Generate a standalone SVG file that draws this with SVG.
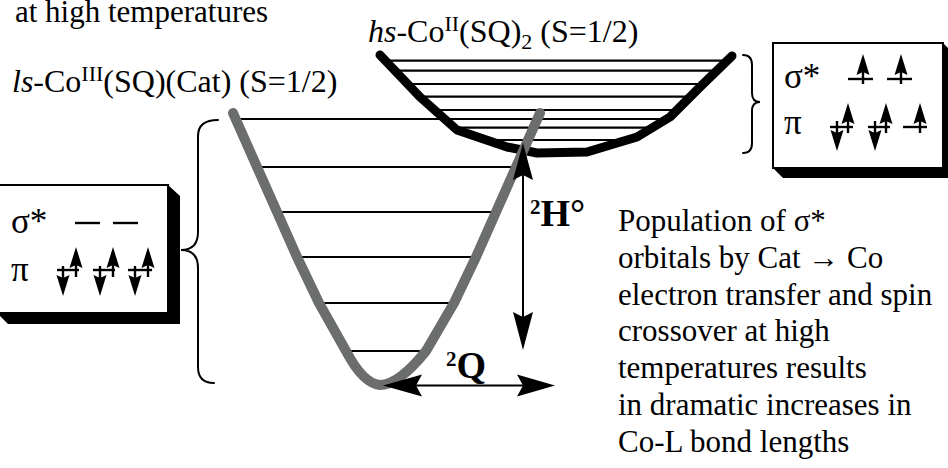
<svg xmlns="http://www.w3.org/2000/svg" xmlns:xlink="http://www.w3.org/1999/xlink" width="948" height="468" viewBox="0 0 948 468">
<style>
text{font-family:"Liberation Serif","Times New Roman",serif;font-size:31px;fill:#000}
.lbl{font-size:32px}
.sym{font-size:35px}
.lvl{stroke:#000;stroke-width:2.2;fill:none}
.orb{stroke:#000;stroke-width:2.4;fill:none}
.brace{stroke:#000;stroke-width:2;fill:none;stroke-linecap:round}
.box{fill:#fff;stroke:#000;stroke-width:2}
.shadow{fill:#000}
.bold{font-weight:bold}
</style>
<defs>
<g id="up"><line x1="0" y1="0" x2="0" y2="-16" stroke="#000" stroke-width="2.4"/><path d="M0,-30 L6.5,-9 L0,-12 L-6.5,-9 Z" fill="#000"/></g>
<g id="down"><line x1="0" y1="0" x2="0" y2="16" stroke="#000" stroke-width="2.4"/><path d="M0,30 L6.5,9 L0,12 L-6.5,9 Z" fill="#000"/></g>
</defs>
<rect width="948" height="468" fill="#fff"/>

<g id="title"><text x="15" y="22">at high temperatures</text></g>

<g id="ls-label"><text class="lbl" x="12" y="92"><tspan font-style="italic">ls</tspan>-Co<tspan font-size="22" dy="-11">III</tspan><tspan dy="11">(SQ)(Cat) (S=1/2)</tspan></text></g>
<g id="hs-label"><text class="lbl" x="368" y="42"><tspan font-style="italic">hs</tspan>-Co<tspan font-size="22" dy="-11">II</tspan><tspan dy="11">(SQ)</tspan><tspan font-size="22" dy="7">2</tspan><tspan dy="-7"> (S=1/2)</tspan></text></g>

<g id="hs-well">
<line class="lvl" x1="385" y1="60.7" x2="726" y2="60.7"/>
<line class="lvl" x1="395" y1="70.7" x2="716" y2="70.7"/>
<line class="lvl" x1="407" y1="84" x2="703" y2="84"/>
<line class="lvl" x1="419" y1="96.7" x2="690" y2="96.7"/>
<line class="lvl" x1="434" y1="110" x2="677" y2="110"/>
<line class="lvl" x1="454" y1="127.7" x2="652" y2="127.7"/>
<line class="lvl" x1="486" y1="140" x2="627" y2="140"/>
</g>

<g id="ls-well">
<line class="lvl" x1="240" y1="119" x2="668" y2="119"/>
<line class="lvl" x1="257" y1="167" x2="516" y2="167"/>
<line class="lvl" x1="277" y1="212" x2="496" y2="212"/>
<line class="lvl" x1="297" y1="257" x2="476" y2="257"/>
<line class="lvl" x1="319" y1="303" x2="454" y2="303"/>
<line class="lvl" x1="346" y1="351" x2="426" y2="351"/>
</g>

<g id="hs-curve"><polyline points="380,55 420,97 457,130 507,147 537,153 587,152 637,137 670,117 700,87 732,56" fill="none" stroke="#000" stroke-width="9" stroke-linecap="round" stroke-linejoin="round"/></g>
<g id="ls-curve"><path d="M233,113 L257,167 L277,212 L297,257 L319,303 L346,351 C357,372 369,384 380,385 C393,385 409,372 426,351 L454,303 L476,257 L496,212 L516,167 L540,113" fill="none" stroke="#6b6e6d" stroke-width="10" stroke-linecap="round" stroke-linejoin="round"/></g>

<g id="connectors">
<line x1="523" y1="165" x2="523" y2="330" stroke="#000" stroke-width="2"/>
<path d="M523,143 L533,180 L523,175 L513,180 Z" fill="#000"/>
<path d="M523,350 L533,312 L523,317 L513,312 Z" fill="#000"/>
<line x1="400" y1="385.5" x2="540" y2="385.5" stroke="#000" stroke-width="2"/>
<path d="M383,385.5 L422,374.5 L416,385.5 L422,396.5 Z" fill="#000"/>
<path d="M555,385.5 L517,374.5 L523,385.5 L517,396.5 Z" fill="#000"/>
<path class="brace" d="M218,120 Q198,120 198,136 L198,232 Q198,250 181,250 Q198,250 198,268 L198,367 Q198,383 214,383"/>
<path class="brace" d="M743,55 Q752,55 752,65 L752,93 Q752,102 760,102 Q752,102 752,111 L752,143 Q752,153 743,153"/>
</g>

<g id="dH-label"><text class="bold" x="530" y="226"><tspan font-size="21" dy="-12">2</tspan><tspan font-size="38" dy="12">H°</tspan></text></g>
<g id="dQ-label"><text class="bold" x="446" y="378"><tspan font-size="21" dy="-12">2</tspan><tspan font-size="38" dy="12">Q</tspan></text></g>

<g id="ls-box">
<polygon class="shadow" points="-3,313 8,324 180,324 180,196 168,185 168,313"/>
<rect class="box" x="-3" y="185" width="171" height="128"/>
<text class="sym" x="11" y="233">σ*</text>
<line class="orb" x1="75" y1="223" x2="100" y2="223"/>
<line class="orb" x1="113" y1="223" x2="138" y2="223"/>
<text class="sym" x="11" y="281">π</text>
<line class="orb" x1="57" y1="270" x2="79" y2="270"/>
<line class="orb" x1="93" y1="270" x2="115" y2="270"/>
<line class="orb" x1="128" y1="270" x2="152" y2="270"/>
<use xlink:href="#down" x="63" y="266"/>
<use xlink:href="#up" x="76" y="277"/>
<use xlink:href="#down" x="100" y="266"/>
<use xlink:href="#up" x="113" y="277"/>
<use xlink:href="#down" x="135" y="266"/>
<use xlink:href="#up" x="148" y="277"/>
</g>

<g id="hs-box">
<polygon class="shadow" points="773,168 783,178 953,178 953,53 943,43 943,168"/>
<rect class="box" x="773" y="43" width="170" height="125"/>
<text class="sym" x="784" y="88">σ*</text>
<line class="orb" x1="848" y1="79" x2="873" y2="79"/>
<line class="orb" x1="887" y1="79" x2="912" y2="79"/>
<use xlink:href="#up" x="863" y="84"/>
<use xlink:href="#up" x="901" y="84"/>
<text class="sym" x="784" y="134">π</text>
<line class="orb" x1="830" y1="127" x2="853" y2="127"/>
<line class="orb" x1="868" y1="127" x2="890" y2="127"/>
<line class="orb" x1="903" y1="127" x2="927" y2="127"/>
<use xlink:href="#down" x="837" y="121"/>
<use xlink:href="#up" x="848" y="133"/>
<use xlink:href="#down" x="875" y="121"/>
<use xlink:href="#up" x="886" y="133"/>
<use xlink:href="#up" x="920" y="133"/>
</g>

<g id="caption">
<text x="618" y="231">Population of σ*</text>
<text x="618" y="268">orbitals by Cat → Co</text>
<text x="618" y="305">electron transfer and spin</text>
<text x="618" y="341">crossover at high</text>
<text x="618" y="378">temperatures results</text>
<text x="618" y="415">in dramatic increases in</text>
<text x="618" y="452">Co-L bond lengths</text>
</g>
</svg>
